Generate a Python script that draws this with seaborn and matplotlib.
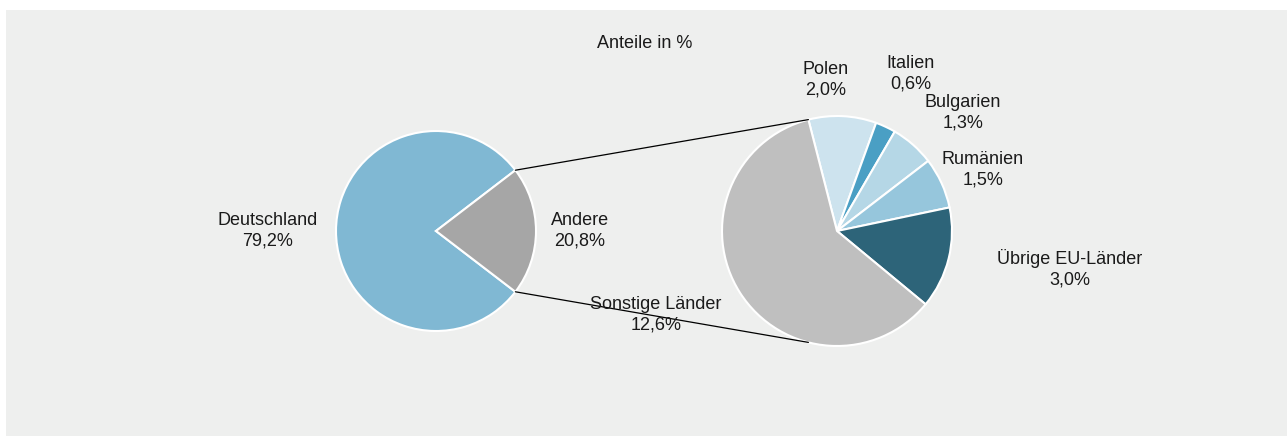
import numpy as np
import seaborn as sns
import matplotlib.pyplot as plt
from matplotlib.patches import Rectangle

# --- data ---------------------------------------------------------------
main_labels = ["Deutschland", "Andere"]
main_values = [79.2, 20.8]

detail_labels = ["Polen", "Italien", "Bulgarien", "Rumänien", "Übrige EU-Länder", "Sonstige Länder"]
detail_values = [2.0, 0.6, 1.3, 1.5, 3.0, 12.6]

main_colors = ["#80b8d3", "#a6a6a6"]
detail_colors = ["#cde3ee", "#4a9fc4", "#b5d7e6", "#96c6dc", "#2d6479", "#bfbfbf"]

W, H = 1287, 437

sns.set_theme(style="white")
plt.rcParams["font.family"] = ["Liberation Sans", "DejaVu Sans"]

fig = plt.figure(figsize=(W / 100, H / 100), dpi=100)
fig.patch.set_facecolor("white")
# grey panel behind the chart
fig.patches.append(Rectangle((6 / W, 1 / H), 1 - 6 / W, 1 - 11 / H, transform=fig.transFigure,
                             facecolor="#eeefee", edgecolor="none", zorder=-5))

ax = fig.add_axes([0, 0, 1, 1])
ax.set_zorder(2)
ax.patch.set_alpha(0)

def fmt(v):
    return f"{v:.1f}".replace(".", ",") + "%"

# left pie, "Andere" centred on the right side
c1, r1 = (436, H - 231), 100
start1 = 360 * main_values[1] / sum(main_values) / 2
w1, _ = ax.pie(main_values, colors=sns.color_palette(main_colors), startangle=start1,
               center=c1, radius=r1, wedgeprops=dict(edgecolor="white", linewidth=1.5))

# right pie, breakdown of "Andere"
c2, r2 = (837, H - 231), 115
start2 = 104.4
w2, _ = ax.pie(detail_values, colors=sns.color_palette(detail_colors), startangle=start2,
               counterclock=False, center=c2, radius=r2,
               wedgeprops=dict(edgecolor="white", linewidth=1.5))

ax.set_xlim(0, W)
ax.set_ylim(0, H)
ax.set_aspect("equal")
ax.axis("off")

# connecting lines between the two pies
andere = w1[1]
for t1, t2 in [(andere.theta2, start2), (andere.theta1, -start2)]:
    a1, a2 = np.deg2rad(t1), np.deg2rad(t2)
    p1 = (c1[0] + r1 * np.cos(a1), c1[1] + r1 * np.sin(a1))
    p2 = (c2[0] + r2 * np.cos(a2), c2[1] + r2 * np.sin(a2))
    ax.plot([p1[0], p2[0]], [p1[1], p2[1]], color="black", linewidth=0.9, zorder=1)

# labels
fs = 13
ax.text(645, H - 43, "Anteile in %", ha="center", va="center", fontsize=fs, color="#1a1a1a")

main_pos = [(268, 231), (580, 231)]
for lab, v, (x, y) in zip(main_labels, main_values, main_pos):
    ax.text(x, H - y, f"{lab}\n{fmt(v)}", ha="center", va="center", fontsize=fs,
            color="#1a1a1a", linespacing=1.25, zorder=5)

detail_pos = [(826, 80), (911, 74), (963, 113), (983, 170), (1070, 269), (656, 315)]
for lab, v, (x, y) in zip(detail_labels, detail_values, detail_pos):
    ax.text(x, H - y, f"{lab}\n{fmt(v)}", ha="center", va="center", fontsize=fs,
            color="#1a1a1a", linespacing=1.25, zorder=5)

fig.savefig("out.png", dpi=100)
